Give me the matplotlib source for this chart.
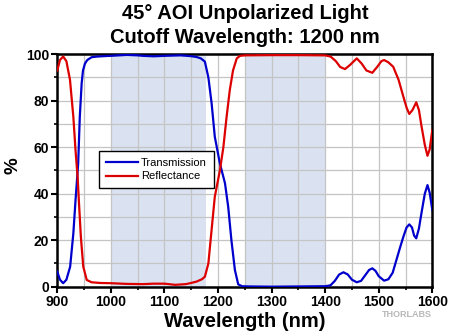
import matplotlib
matplotlib.use("Agg")
import matplotlib.pyplot as plt
from matplotlib.ticker import MultipleLocator

plt.rcParams['font.family'] = ['Liberation Sans', 'DejaVu Sans']

# Transmission data
wl_T = [900, 905, 911, 917, 924, 930, 934, 939, 942, 945.5, 948, 951.7, 956, 964, 975, 990,
        1000, 1030, 1050, 1060, 1080, 1100, 1130, 1148, 1160, 1168, 1175.5, 1182, 1188, 1194,
        1203.5, 1213, 1219, 1225, 1231.5, 1237.7, 1245, 1260, 1300, 1350, 1400, 1410, 1418,
        1426, 1434, 1442, 1450, 1459, 1467, 1475, 1482, 1488, 1494, 1500, 1510, 1518, 1526,
        1533, 1540, 1546, 1552, 1557, 1562, 1566, 1570, 1575, 1580, 1586, 1591, 1595, 1600]
trans = [6.5, 3.0, 1.5, 3.0, 8.6, 23, 37, 53, 73, 87.5, 93, 96, 97.5, 98.7, 99.0, 99.2,
         99.3, 99.7, 99.5, 99.3, 99.1, 99.3, 99.5, 99.2, 98.8, 98.2, 96.8, 90, 79, 64.5,
         53, 44.5, 34.4, 20, 7.2, 1.0, 0.2, 0.1, 0.0, 0.1, 0.2, 0.6, 2.5,
         5.2, 6.2, 5.3, 3.0, 1.9, 2.5, 5.0, 7.2, 7.9, 6.8, 4.5, 2.6, 3.2, 6.0,
         11.5, 17, 21.5, 25.5, 26.8, 25.5, 22, 20.8, 25, 32, 40, 43.7, 40.5, 33]

# Reflectance data
wl_R = [900, 905, 911, 917, 923.7, 930, 934, 938, 940.5, 944, 948.5, 955, 964, 980,
        1000, 1030, 1060, 1080, 1100, 1120, 1140, 1148, 1160, 1170, 1175.5, 1182, 1188,
        1194, 1203.5, 1210, 1216, 1222, 1228, 1235, 1241, 1250, 1300, 1350, 1400, 1410,
        1420, 1428, 1437, 1447, 1459, 1468, 1477, 1488, 1497, 1505, 1510, 1518, 1527,
        1537, 1546, 1552, 1557, 1563, 1570, 1575, 1580, 1586, 1591, 1595, 1600]
refl = [93, 97.5, 99, 97, 89, 73, 58.8, 47, 36, 21.5, 8.6, 2.9, 1.9, 1.6,
        1.5, 1.2, 1.1, 1.3, 1.3, 0.8, 1.1, 1.5, 2.2, 3.2, 4.3, 10, 24.4,
        38.7, 50, 60, 73, 84.6, 93, 98.2, 99.3, 99.5, 99.6, 99.6, 99.5, 99,
        97, 94.5, 93.6, 95.5, 98.2, 96, 93, 92, 94.5, 97, 97.5, 96.5, 94.6,
        89, 81.7, 77, 74.3, 76, 79.3, 76, 68.8, 61, 56.3, 59, 67.4]

shade_bands = [(1000, 1177), (1250, 1400)]

fig = plt.figure(figsize=(4.5, 3.35), dpi=100)
ax = fig.add_axes([0.1273, 0.1442, 0.8334, 0.6940])

for a, b in shade_bands:
    ax.axvspan(a, b, color='#dae2f1', zorder=0, lw=0)

ax.plot(wl_T, trans, color='#0000CC', lw=1.6, label='Transmission', zorder=3)
ax.plot(wl_R, refl, color='#DD0000', lw=1.6, label='Reflectance', zorder=3)

ax.set_xlim(900, 1600)
ax.set_ylim(0, 100)
ax.xaxis.set_major_locator(MultipleLocator(100))
ax.xaxis.set_minor_locator(MultipleLocator(50))
ax.yaxis.set_major_locator(MultipleLocator(20))
ax.yaxis.set_minor_locator(MultipleLocator(10))
ax.grid(True, which='both', color='#c4c4c4', lw=0.9, zorder=1)
ax.set_axisbelow(True)

for s in ax.spines.values():
    s.set_linewidth(1.8)
    s.set_color('black')
ax.tick_params(which='major', direction='out', length=4, width=1.5, labelsize=10, pad=2)
ax.tick_params(which='minor', direction='out', length=2.5, width=1.2)
for lab in ax.get_xticklabels() + ax.get_yticklabels():
    lab.set_fontweight('bold')

ax.set_xlabel('Wavelength (nm)', fontsize=14.5, fontweight='bold', labelpad=2)
fig.text(0.03, 0.507, '%', fontsize=13.5, fontweight='bold', rotation=90,
         ha='center', va='center')
fig.text(0.545, 0.96, '45° AOI Unpolarized Light', fontsize=14.5, fontweight='bold',
         ha='center', va='center')
fig.text(0.545, 0.888, 'Cutoff Wavelength: 1200 nm', fontsize=14.5, fontweight='bold',
         ha='center', va='center')

leg = ax.legend(loc='upper left', bbox_to_anchor=(0.111, 0.584), borderaxespad=0,
                fontsize=8, frameon=True, fancybox=False, edgecolor='black', framealpha=1,
                handlelength=2.9, borderpad=0.6, labelspacing=0.35, handletextpad=0.3)
leg.get_frame().set_linewidth(1.0)
leg.set_zorder(5)

fig.text(0.905, 0.062, 'THORLABS', fontsize=6.5, fontweight='bold', color='#b8b8b8',
         ha='center', va='center')

fig.savefig('out.png', dpi=100)
